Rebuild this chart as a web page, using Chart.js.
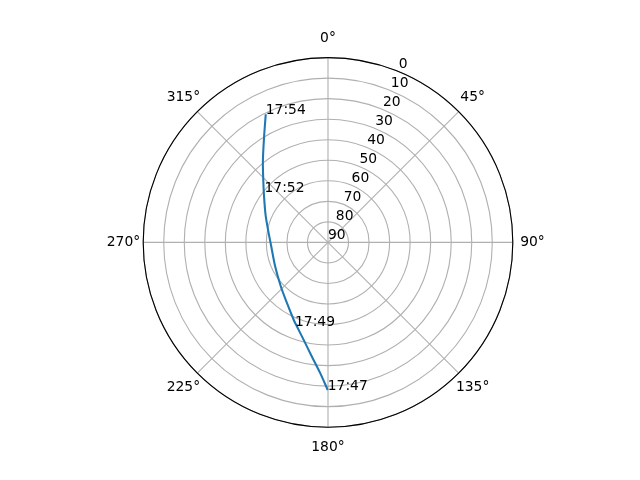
<!DOCTYPE html>
<html>
<head>
<meta charset="utf-8">
<script src="https://cdn.jsdelivr.net/npm/chart.js@4"></script>
<style>
  html, body { margin: 0; padding: 0; background: #ffffff; }
  canvas { display: block; }
</style>
</head>
<body>
<canvas id="c" width="640" height="480"></canvas>
<script>
// Track of the pass: azimuth (deg, clockwise from north) and elevation (deg)
const azimuths   = [180.1, 183.4, 188.0, 195.4, 200.5, 203.8, 214.0, 226.7, 245.2, 267.4, 280.2, 293.7, 306.5, 313.2, 321.1, 328.4, 334.1];
const elevations = [18.1, 26.2, 33.8, 42.4, 46.5, 48.7, 54.3, 58.5, 61.7, 62.2, 60.5, 56.8, 51.2, 46.8, 39.5, 30.5, 20.6];

// Time annotations
const timeLabels = ['17:47', '17:49', '17:52', '17:54'];
const labelAz    = [180.1, 201.5, 308.3, 334.1];
const labelEl    = [18.1, 46.2, 50.6, 20.6];

// Axis ticks
const thetaTicks = [0, 45, 90, 135, 180, 225, 270, 315];
const rTicks     = [0, 10, 20, 30, 40, 50, 60, 70, 80, 90];
const R_MAX = 90;

const FONT = '13.89px "DejaVu Sans"';

function toXY(az, el) {
  const rho = R_MAX - el;
  const a = az * Math.PI / 180;
  return { x: rho * Math.sin(a), y: rho * Math.cos(a) };
}

const points = azimuths.map((az, i) => toXY(az, elevations[i]));

function geom(chart) {
  const xs = chart.scales.x, ys = chart.scales.y;
  const cx = xs.getPixelForValue(0), cy = ys.getPixelForValue(0);
  const unit = (xs.getPixelForValue(R_MAX) - cx) / R_MAX;
  return { xs, ys, cx, cy, unit };
}

const polarGrid = {
  id: 'polarGrid',
  beforeDatasetsDraw(chart) {
    const { cx, cy, unit } = geom(chart);
    const ctx = chart.ctx;
    const outer = R_MAX * unit;
    ctx.save();
    ctx.strokeStyle = '#b0b0b0';
    ctx.lineWidth = 1.1;
    rTicks.forEach(v => {
      const rad = (R_MAX - v) * unit;
      if (rad <= 0) return;
      ctx.beginPath();
      ctx.arc(cx, cy, rad, 0, Math.PI * 2);
      ctx.stroke();
    });
    thetaTicks.forEach(t => {
      const a = t * Math.PI / 180;
      ctx.beginPath();
      ctx.moveTo(cx, cy);
      ctx.lineTo(cx + outer * Math.sin(a), cy - outer * Math.cos(a));
      ctx.stroke();
    });
    // radial tick labels at 22.5 deg
    ctx.fillStyle = '#000000';
    ctx.font = FONT;
    ctx.textAlign = 'left';
    ctx.textBaseline = 'bottom';
    const la = 22.5 * Math.PI / 180;
    rTicks.forEach(v => {
      const rad = (R_MAX - v) * unit;
      ctx.fillText(String(v), cx + rad * Math.sin(la), cy - rad * Math.cos(la));
    });
    // angular labels
    ctx.textAlign = 'center';
    ctx.textBaseline = 'middle';
    const lr = outer + 19.7;
    thetaTicks.forEach(t => {
      const a = t * Math.PI / 180;
      ctx.fillText(t + '°', cx + lr * Math.sin(a), cy - lr * Math.cos(a));
    });
    ctx.restore();
  },
  afterDatasetsDraw(chart) {
    const { xs, ys, cx, cy, unit } = geom(chart);
    const ctx = chart.ctx;
    ctx.save();
    ctx.strokeStyle = '#000000';
    ctx.lineWidth = 1.1;
    ctx.beginPath();
    ctx.arc(cx, cy, R_MAX * unit, 0, Math.PI * 2);
    ctx.stroke();
    ctx.fillStyle = '#000000';
    ctx.font = FONT;
    ctx.textAlign = 'left';
    ctx.textBaseline = 'alphabetic';
    timeLabels.forEach((t, i) => {
      const p = toXY(labelAz[i], labelEl[i]);
      ctx.fillText(t, xs.getPixelForValue(p.x), ys.getPixelForValue(p.y));
    });
    ctx.restore();
  }
};

new Chart(document.getElementById('c'), {
  type: 'scatter',
  data: {
    datasets: [{
      data: points,
      showLine: true,
      borderColor: '#1f77b4',
      backgroundColor: '#1f77b4',
      borderWidth: 2.08,
      pointRadius: 0,
      tension: 0.3,
      fill: false
    }]
  },
  options: {
    responsive: false,
    animation: false,
    layout: { padding: { left: 143.2, right: 127.2, top: 57.6, bottom: 52.8 } },
    plugins: { legend: { display: false }, tooltip: { enabled: false } },
    scales: {
      x: { type: 'linear', min: -R_MAX, max: R_MAX, display: false },
      y: { type: 'linear', min: -R_MAX, max: R_MAX, display: false }
    }
  },
  plugins: [polarGrid]
});
</script>
</body>
</html>
